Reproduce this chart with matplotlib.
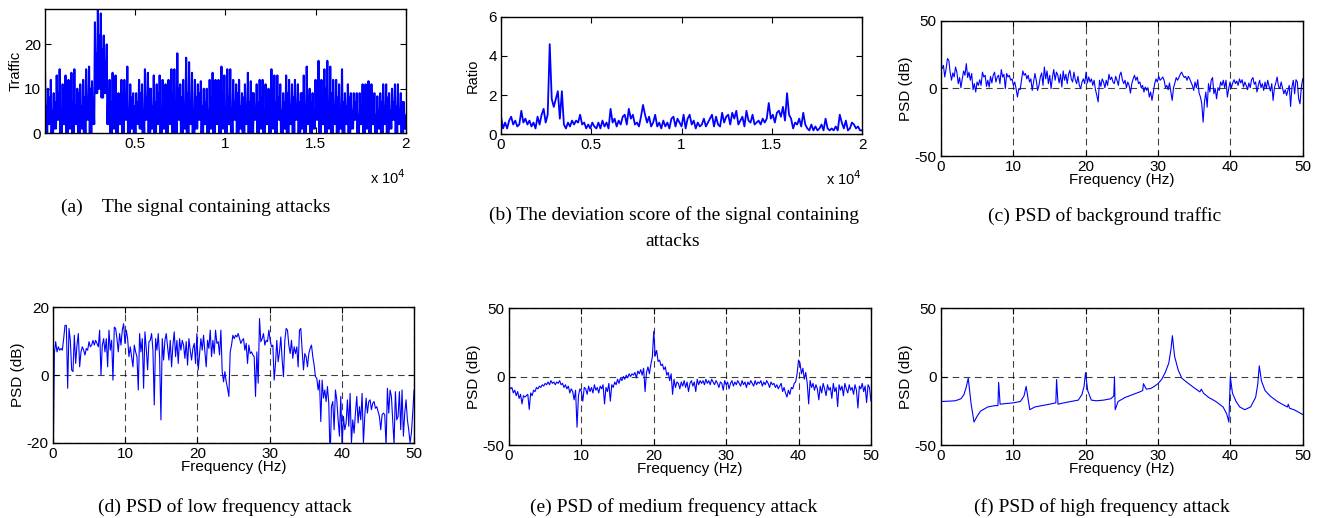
import matplotlib
matplotlib.use("Agg")
import matplotlib.pyplot as plt
import numpy as np

plt.rcParams['font.family'] = ['Liberation Sans', 'DejaVu Sans']
plt.rcParams['axes.unicode_minus'] = False

# (a) traffic signal: spike tops, secondary tops and floors per short window
traffic_peaks = [
    15, 10, 12, 9, 13, 14.4, 11, 13, 12, 13.6,
    14.4, 10, 11, 12, 14.4, 15, 11.7, 25, 28, 27,
    22, 20, 12, 13.6, 13, 9, 12, 12, 15, 11,
    9, 9, 12, 11, 14.4, 13.6, 10, 13, 11, 13,
    12, 11, 12, 14.4, 14.4, 18, 11, 12, 17, 16,
    13.6, 12, 11, 11.7, 10, 10, 12, 13.6, 12, 12,
    15, 13, 14.4, 14.4, 12, 11, 12, 9, 11, 13.6,
    11.7, 9, 11, 12, 12, 11, 10, 14.4, 13, 13,
    11, 9, 13, 12, 11, 12, 11, 9, 13, 15,
    10, 9, 12, 16.3, 12, 14.4, 16.3, 15, 12, 12,
    11, 14.4, 9, 11, 9, 9, 9, 9, 11, 11,
    11.7, 11, 9, 8.3, 9, 11, 11, 9, 10, 11,
    11, 9, 7,
]
traffic_mids = [
    6, 8, 5, 7, 9, 4, 8, 6, 10, 7,
    5, 9, 6, 8, 7, 10, 6, 18, 22, 19,
    16, 9, 7, 5, 8, 6, 9, 7, 5, 8,
    6, 7, 9, 5, 8, 10, 6, 7, 9, 5,
    8, 6, 7, 9, 5, 10, 8, 6, 9, 7,
    5, 8, 9, 6, 7, 5, 8, 10, 6, 7,
    9, 6, 8, 5, 7, 9, 6, 8, 5, 7,
    9, 6, 7, 8, 5, 9, 6, 10, 7, 8,
    5, 7, 9, 6, 8, 5, 7, 9, 6, 8,
    7, 5, 9, 8, 6, 10, 7, 9, 6, 8,
    5, 7, 6, 8, 5, 7, 4, 6, 8, 5,
    7, 6, 4, 5, 7, 6, 8, 5, 7, 6,
    5, 7, 4,
]
traffic_lows = [
    0, 2, 0, 1, 3, 0, 2, 0, 1, 0,
    2, 0, 1, 0, 3, 0, 2, 9, 10, 8,
    9, 2, 0, 1, 0, 2, 0, 3, 0, 1,
    0, 2, 1, 0, 3, 0, 1, 0, 2, 0,
    1, 0, 2, 0, 0, 3, 0, 1, 0, 2,
    0, 1, 3, 0, 2, 0, 1, 0, 2, 0,
    1, 0, 2, 0, 3, 0, 1, 0, 2, 0,
    0, 3, 0, 1, 0, 2, 0, 1, 0, 3,
    0, 1, 0, 2, 0, 3, 0, 1, 0, 2,
    0, 1, 3, 0, 2, 0, 1, 0, 2, 0,
    1, 0, 2, 0, 1, 3, 0, 2, 0, 1,
    0, 2, 0, 1, 0, 2, 0, 1, 3, 0,
    2, 0, 1,
]

# (b) deviation score
ratio = [
    0.9, 0.3, 0.6, 0.3, 0.7, 0.9, 0.5, 0.7, 0.4, 0.5,
    1.2, 0.6, 0.8, 0.5, 0.7, 0.4, 0.6, 0.3, 0.9, 0.5,
    1.0, 1.3, 0.6, 1.0, 4.6, 1.8, 1.4, 1.8, 2.2, 0.8,
    2.2, 0.5, 0.3, 0.6, 0.4, 0.7, 0.5, 0.7, 0.6, 1.0,
    0.5, 0.6, 0.3, 0.5, 0.3, 0.6, 0.4, 0.3, 0.6, 0.3,
    0.7, 0.4, 0.6, 0.3, 1.3, 0.6, 0.8, 0.4, 0.7, 0.5,
    0.9, 1.0, 0.5, 1.3, 0.8, 1.0, 0.5, 0.6, 0.4, 0.9,
    1.5, 1.0, 0.6, 0.9, 0.4, 0.6, 1.0, 0.4, 0.6, 0.3,
    0.7, 0.4, 0.6, 0.3, 0.8, 0.9, 0.4, 0.8, 0.6,
    0.4, 1.0, 0.3, 0.8, 1.0, 0.5, 0.7, 0.3, 0.6, 0.4,
    0.5, 0.8, 0.4, 0.6, 0.8, 1.0, 0.4, 0.9, 0.5, 0.4,
    1.1, 0.6, 0.9, 1.0, 0.5, 1.1, 0.8, 1.2, 0.5, 0.7,
    0.9, 0.4, 1.2, 0.7, 0.6, 1.0, 0.5, 0.6, 0.7, 0.5,
    0.8, 0.6, 0.8, 1.6, 0.8, 1.0, 0.6, 1.1, 1.2, 0.9,
    1.4, 0.7, 2.1, 1.0, 0.8, 0.3, 0.6, 0.5, 0.8, 0.4,
    1.1, 0.5, 0.3, 0.2, 0.5, 0.2, 0.4, 0.2, 0.3, 0.5,
    0.2, 0.8, 0.3, 0.2, 0.3, 0.2, 0.4, 0.2, 1.0, 0.6,
    0.3, 0.7, 0.2, 0.3, 0.6, 0.5, 0.3, 0.4, 0.2, 0.2,
]

# (c) PSD of background traffic (dB), 0-50 Hz
psd_background = [
    19.5, 14.6, 17, 8.4, 14.6, 22, 20.8, 12, 6, 11.4,
    8.4, 15.8, 12, 3.5, 8, 0.5, 7, 12.9, 9.7, 18.3,
    8, 12, 6, 11, -1, 3.5, -2.7, 4.7, 2.2, 6.4,
    2.2, 12, 8.4, 9.7, 1.5, 6, 1, 8.9, 4, 9.7,
    12, 4.7, 8.4, 9.7, 3.5, 13.9, 8.4, 10.4, -0.2, 11,
    8.4, 9.7, 6, 7, 2.2, 4.7, -0.2, -6.4, -0.2, -1,
    6, 12.9, 9.7, 11, 7, 9.7, 4.7, 7, -1.5, 4.7,
    11, 6, -1.5, 2.2, 8.4, 11.4, 2.2, 15.8, 7, 12.9,
    3.5, 9.7, -0.2, 8.4, 13.9, 6, 12, 9.7, 4, 10.4,
    1, 12.9, 6, 10.4, 3.5, 10.4, 13.4, 7, 4.7, 12,
    6.4, 3.5, 8.9, 2.2, -0.2, 4.7, 7, 3.5, 12, 4,
    8.4, 4.7, 7, 2.2, 6, -1, -5.2, -10, 6, 1.5,
    7, 4.7, 0.5, 6, 2.2, 10.4, 6.4, 8.4, 4.7, 3.5,
    8.9, 6, 2.2, 9.7, 12, 6.4, 3.5, 6, 0.5, 4.7,
    2.2, -3.5, 3.5, 7, 9.7, 6, 8.4, 3.5, 4.7, 0.5,
    2.2, -2.7, 1, -1.5, 0.5, -6.4, -2.7, -8.9, -2.7, 3.5,
    7, 4.7, 8.9, 6, 7, 8.4, 6, 0.5, 2.2, -1,
    4, -2.7, -8.9, 0.5, 4, 8, 6, 8, 10.4, 12,
    9.7, 8, 8.9, 6, 8.9, 7, 4.7, 2.2, -1.5, 4.7,
    0.5, 6.4, -3.5, -6.4, -11.4, -25, -10, -2.7, -13.9, 3.5,
    -2.7, 6, 8, -4, -0.2, -7.7, 0.5, -1.5, 4.7, 2.2,
    6, 0.5, 6, -6.4, -0.2, 4.7, 0.5, 4, 6.4, 3.5,
    5.4, 2.2, 7, 4, 6.4, 1, 4.7, 2.2, -1, 4,
    0.5, 6.4, 8, 3, 4.7, -2.7, 2.2, 6, 0.5, 3.5,
    -1.5, 4.7, -0.2, 6, 1.5, -2, 3.5, -8.9, 0.5, 4,
    8.4, 1.5, -0.2, 4.7, 0.5, -4, -1, -5.2, -1.5, 2.2,
    -13.4, 1, 6, -4, 6.4, 4.7, -7.7, -11.4, 1, 7,
]

# (d) PSD of low frequency attack (dB)
psd_low = [
    -30, 6.3, 9.8, 6.8, 8.3, 7.3, 7.8, 7.3, 10.7, 14.6,
    14.6, -3.9, 13.7, 10.2, 1.5, 1, 11.7, 3.4, 8.8, 12.2,
    2.4, 6.8, 8.3, 7.3, 5.9, 7.8, 7.3, 9.8, 8.3, 8.8,
    10.2, 8.8, 10.2, 9.3, 8.3, 13.2, 0, 8.8, 10.7, 6.8,
    10.7, 2.4, 13.2, 7.3, 10.2, -1.5, 14.1, 13.7, 10.7, 6.8,
    12.2, 8.8, 13.2, 15.1, 9.3, 13.2, 10.7, 5.4, 8.3, 5.4,
    2.4, 8.8, 6.8, 5.4, -4.4, 12.2, 6.8, 10.7, -3.9, 12.7,
    7.8, 1.5, 9.8, 10.2, 12.2, 7.3, -8.8, 10.7, 7.3, 12.2,
    5.4, -13.2, 10.7, 4.4, 10.2, 12.2, 8.3, 4.4, 10.2, 2.4,
    8.8, 12.7, 5.4, 10.2, 3.4, 10.7, 7.3, 10.2, 8.8, 4.9,
    9.8, 2.9, 10.7, 7.3, 4.4, 7.8, 9.3, 3.4, 12.2, 1.5,
    6.3, 10.7, 7.3, 11.7, 6.8, 2.4, 10.2, 7.8, 13.2, 5.4,
    10.2, 6.3, 13.2, 9.3, 9.8, 5.9, 13.2, 1, -2, 1,
    -2, -3.9, -6.3, 6.8, 8.8, 11.7, 10.7, 11.7, 11.2, 12.2,
    10.7, 9.3, 10.2, 10.7, 7.3, 9.3, 3.4, 8.8, 6.3, 6.8,
    5.9, 5.4, -6.3, 6.8, -2.4, 16.6, 9.8, 10.7, 12.2, 8.8,
    10.2, 9.8, 13.2, 10.2, 8.3, 8.8, -1.5, 3.4, 10.2, 3.9,
    6.8, 11.2, 4.4, -0.5, 10.2, 13.7, 13.2, 8.8, 6.3, 10.2,
    4.9, 8.3, 6.3, 8.3, 2.4, 13.2, 13.7, 7.3, 1.5, 6.3,
    5.4, 2.4, 6.3, 7.8, 8.8, 5.4, 2.9, -0.5, -1, -4.4,
    -1.5, -13.7, -1.5, -6.8, -4.4, -7.8, -3.4, -8.3, -25, -9.3,
    -7.8, -16.1, -4.4, -7.3, -13.2, -18, -6.3, -21, -12.2, -16.1,
    -14.1, -7.3, -15.1, -5.4, -20, -13.2, -17.1, -11.2, -6.3, -14.1,
    -9.3, -13.2, -5.4, -20, -12.2, -6.8, -11.2, -7.8, -7.3, -10.2,
    -8.3, -7.8, -9.8, -9.3, -10.7, -12.2, -16.1, -11.7, -11.2, -11.7,
    -21, -3.9, -11.2, -4.4, -6.3, -13.2, -20.5, -4.9, -13.2, -12.2,
    -4.9, -16.1, -4.4, -18, -11.2, -7.3, -13.2, -16.1, -20, -17.1,
    -11.2, -4.4,
]

# (e) PSD of medium frequency attack (dB), every 0.2 Hz
psd_medium = [
    -7, -9, -8, -12, -10, -14, -11, -16, -13, -20,
    -14, -15, -14, -13, -24, -12, -14, -10, -11, -8,
    -9, -7, -8, -6, -7, -5, -6, -4, -6, -3,
    -5, -4, -6, -4, -5, -3, -6, -5, -8, -6,
    -9, -7, -12, -9, -11, -17, -10, -37, -14, -9,
    -11, -18, -8, -9, -13, -7, -11, -8, -12, -6,
    -10, -8, -12, -7, -9, -6, -20, -8, -11, -5,
    -18, -6, -8, -4, -6, -2, -5, -1, -3, 0,
    -2, 1, -1, 2, 0, 2, 1, 3, -1, 4,
    2, 5, 1, 6, -11, 3, 7, 2, 9, 14,
    33, 15, 19, 11, 12, 8, 9, 5, 7, 1,
    3, -3, 2, -13, -2, -8, -4, -5, -9, -4,
    -7, -3, -8, -4, -11, -5, -3, -7, -4, -11,
    -2, -6, -3, -5, -3, -6, -2, -5, -3, -6,
    -2, -4, -6, -3, -5, -8, -4, -5, -10, -3,
    -6, -4, -9, -5, -3, -7, -4, -6, -3, -5,
    -7, -3, -6, -4, -8, -4, -6, -3, -5, -7,
    -3, -6, -4, -5, -3, -7, -4, -6, -3, -5,
    -8, -4, -6, -5, -8, -6, -9, -7, -5, -11,
    -8, -12, -15, -10, -13, -8, -9, -5, -4, 2,
    12, 10, 2, 6, -2, 3, -5, -20, -3, -8,
    -5, -10, -6, -9, -17, -7, -12, -5, -9, -14,
    -6, -10, -8, -16, -5, -11, -8, -22, -6, -10,
    -7, -14, -5, -9, -12, -6, -10, -8, -13, -6,
    -10, -23, -7, -9, -5, -11, -7, -19, -6, -8,
    -18,
]

# (f) PSD of high frequency attack: frequency (Hz) and level (dB)
high_freq = [
    0, 1, 2, 2.8, 3.2, 3.5, 3.8, 4.2, 4.6, 5.0, 5.5, 6.5, 7.5, 7.9, 8.0, 8.2,
    9, 10, 11, 11.5, 11.8, 12.3, 13, 14, 15, 15.9, 16.0, 16.2, 17, 18,
    19, 19.5, 19.8, 20.0, 20.3, 20.8, 21.5, 22.5, 23.5, 23.9, 24.0, 24.1,
    24.5, 25.5, 26.5, 27.5, 27.9, 28.0, 28.4, 29, 29.5, 30, 30.5, 31, 31.5,
    31.8, 32.0, 32.3, 32.8, 33.3, 34, 35, 35.8, 36.0, 36.3, 37, 38, 39, 39.5,
    39.8, 40.0, 40.3, 40.8, 41.3, 42, 42.8, 43.5, 43.8, 44.0, 44.3, 44.8,
    45.5, 46.5, 47.5, 47.9, 48.0, 48.2, 48.8, 49.5, 50,
]
high_psd = [
    -18, -17.8, -17.5, -16, -13, -8, -1, -20, -33, -29, -25, -22, -21, -21, -4, -20,
    -19.5, -19, -18, -14, -7, -24, -22, -21, -20, -19, -2, -20, -19, -18,
    -17, -13, -7, 3, -10, -17, -17.5, -17, -16, -14, 0, -24,
    -18, -15, -13, -11, -10, -5, -9, -8.5, -7, -5, -2, 3, 10,
    20, 30, 15, 5, -1, -4, -8, -11, -9, -12, -15, -18, -22, -27,
    -33, 0, -12, -18, -22, -24, -22, -15, -5, 8, -3, -10,
    -14, -18, -21, -22, -20, -23, -24, -26, -27.5,
]

BLUE = (0, 0, 1)


def style_axes(ax, size=11):
    ax.tick_params(direction='in', top=True, right=True, length=4,
                   width=0.8, labelsize=size, pad=3)
    for sp in ax.spines.values():
        sp.set_linewidth(1.0)


def psd_axes(ax, freq, values, ylim, yticks):
    ax.plot(freq, values, color=BLUE, lw=0.8)
    ax.set_xlim(0, 50)
    ax.set_ylim(*ylim)
    ax.set_xticks([0, 10, 20, 30, 40, 50])
    ax.set_yticks(yticks)
    ax.grid(True, linestyle=(0, (6, 4)), color='k', lw=0.8, alpha=0.75)
    ax.set_xlabel("Frequency (Hz)", fontsize=11, labelpad=-1)
    ax.set_ylabel("PSD (dB)", fontsize=11, labelpad=1)
    style_axes(ax)


fig = plt.figure(figsize=(13.22, 5.18), dpi=100)

# (a)
ax = fig.add_axes([0.0340, 0.7432, 0.2731, 0.2394])
n = min(len(traffic_peaks), len(traffic_mids), len(traffic_lows))
seq = []
for i in range(n):
    seq += [traffic_peaks[i], traffic_lows[i], traffic_mids[i], traffic_lows[i]]
ax.plot(np.linspace(1, 20000, len(seq)), seq, color=BLUE, lw=1.5)
ax.set_xlim(1, 20000)
ax.set_ylim(0, 28)
ax.set_xticks([5000, 10000, 15000, 20000])
ax.set_xticklabels(['0.5', '1', '1.5', '2'])
ax.set_yticks([0, 10, 20])
ax.set_ylabel("Traffic", fontsize=10.5, labelpad=1)
style_axes(ax, 11)
ax.text(1.0, -0.36, r"x 10$^4$", transform=ax.transAxes, ha='right',
        va='center', fontsize=10.5)

# (b)
ax = fig.add_axes([0.3790, 0.7407, 0.2731, 0.2270])
ax.plot(np.linspace(0, 20000, len(ratio)), ratio, color=BLUE, lw=1.3)
ax.set_xlim(0, 20000)
ax.set_ylim(0, 6)
ax.set_xticks([0, 5000, 10000, 15000, 20000])
ax.set_xticklabels(['0', '0.5', '1', '1.5', '2'])
ax.set_yticks([0, 2, 4, 6])
ax.set_ylabel("Ratio", fontsize=10.5, labelpad=6)
style_axes(ax, 11)
ax.text(1.0, -0.38, r"x 10$^4$", transform=ax.transAxes, ha='right',
        va='center', fontsize=10.5)

# (c)-(f)
ax = fig.add_axes([0.7116, 0.6988, 0.2738, 0.2612])
psd_axes(ax, np.linspace(0, 50, len(psd_background)), psd_background,
         (-50, 50), [-50, 0, 50])

ax = fig.add_axes([0.0401, 0.1448, 0.2731, 0.2625])
psd_axes(ax, np.linspace(0, 50, len(psd_low)), psd_low, (-20, 20), [-20, 0, 20])

ax = fig.add_axes([0.3850, 0.1409, 0.2738, 0.2645])
psd_axes(ax, np.linspace(0, 50, len(psd_medium)), psd_medium,
         (-50, 50), [-50, 0, 50])

ax = fig.add_axes([0.7116, 0.1403, 0.2738, 0.2645])
psd_axes(ax, high_freq, high_psd, (-50, 50), [-50, 0, 50])

# captions
cap = dict(fontsize=14, family='Liberation Serif', ha='center', va='center')
W, H = 1322, 518
fig.text(196 / W, 1 - 207 / H, "(a)    The signal containing attacks", **cap)
fig.text(674 / W, 1 - 215 / H, "(b) The deviation score of the signal containing", **cap)
fig.text(673 / W, 1 - 241 / H, "attacks", **cap)
fig.text(1105 / W, 1 - 216 / H, "(c) PSD of background traffic", **cap)
fig.text(225 / W, 1 - 507 / H, "(d) PSD of low frequency attack", **cap)
fig.text(674 / W, 1 - 507 / H, "(e) PSD of medium frequency attack", **cap)
fig.text(1102 / W, 1 - 507 / H, "(f) PSD of high frequency attack", **cap)

fig.savefig("out.png", dpi=100)
